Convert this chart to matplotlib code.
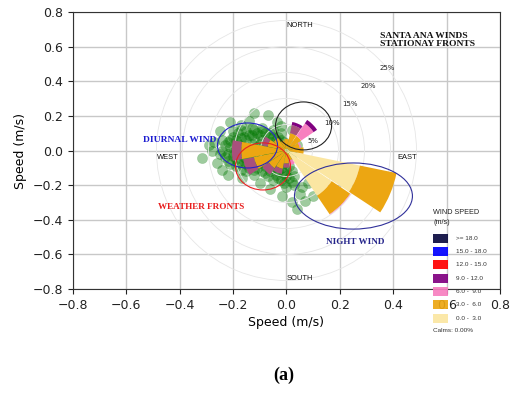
import matplotlib.pyplot as plt
from matplotlib.patches import Ellipse, Rectangle
import numpy as np

W_PX, H_PX = 515, 398

# wind rose, percent of time per sector, stacked by speed bin
directions = ['N', 'NNE', 'NE', 'ENE', 'E', 'ESE', 'SE', 'SSE',
              'S', 'SSW', 'SW', 'WSW', 'W', 'WNW', 'NW', 'NNW']
freq_0_3 = [0.4, 0.4, 0.4, 0.4, 0.6, 14.4, 10.5, 0.6, 0.4, 0.4, 0.4, 0.4, 0.4, 0.4, 0.4, 0.3]
freq_3_6 = [1.8, 3.0, 3.0, 2.2, 2.7, 7.2, 4.3, 1.4, 2.1, 3.2, 3.7, 6.0, 8.3, 3.3, 2.5, 1.7]
freq_6_9 = [0.0, 1.6, 2.9, 0.3, 0.0, 0.0, 0.1, 0.9, 0.8, 1.0, 1.5, 2.1, 1.8, 1.1, 0.0, 0.0]
freq_9_12 = [0.0, 0.6, 0.8, 0.0, 0.0, 0.0, 0.0, 0.0, 0.0, 0.0, 0.0, 0.0, 0.0, 0.0, 0.0, 0.0]
ring_levels = [5, 10, 15, 20, 25]

speed_labels = ['>= 18.0', '15.0 - 18.0', '12.0 - 15.0', '9.0 - 12.0',
                '6.0 -  9.0', '3.0 -  6.0', '0.0 -  3.0']
speed_colors = ['#0b0b40', '#0000ff', '#ff0000', '#800080',
                '#f77fbf', '#eca612', '#fbe6a2']

# hourly wind vectors (m/s)
cloud_x = [-0.22, -0.20, -0.18, -0.15, -0.12, -0.09, -0.06, -0.03, -0.01,
           -0.24, -0.21, -0.18, -0.15, -0.12, -0.09, -0.06, -0.03, 0.00,
           -0.23, -0.20, -0.17, -0.14, -0.11, -0.08, -0.05, -0.02,
           -0.21, -0.18, -0.15, -0.12, -0.09, -0.06, -0.03, 0.00,
           -0.17, -0.14, -0.11, -0.08, -0.05, -0.02, 0.01,
           -0.12, -0.08, -0.04, -0.01, 0.02,
           -0.05, -0.02, 0.01, 0.03,
           -0.19, -0.16, -0.13, -0.10, -0.07, -0.04, -0.20, -0.16, -0.13, -0.10,
           -0.07, -0.04, -0.19, -0.16, -0.13, -0.10, -0.07, -0.04, -0.15, -0.10,
           -0.07, -0.03,
           -0.23, -0.21, -0.17, -0.14, -0.11, -0.08, -0.05, -0.02,
           -0.22, -0.19, -0.16, -0.13, -0.10, -0.07, -0.04, -0.01,
           -0.22, -0.19, -0.16, -0.13, -0.10, -0.07, -0.04, -0.01,
           -0.15, -0.12, -0.09, -0.06, -0.03, 0.00,
           -0.07, -0.03, 0.00, 0.02, -0.01,
           -0.17, -0.13, -0.09, -0.05, -0.02,
           -0.25, -0.24, -0.20, 0.01, 0.02,
           -0.315, -0.28, -0.25, -0.27, -0.26, -0.21, -0.12, -0.07, -0.035, -0.17,
           0.02, -0.22, -0.165, -0.10, 0.00, -0.015, 0.02, 0.06, 0.05, 0.08,
           0.04, 0.10, -0.06, 0.04, -0.29, -0.24, -0.14, -0.02, 0.03, 0.07]
cloud_y = [0.05, 0.08, 0.10, 0.11, 0.12, 0.11, 0.10, 0.08, 0.05,
           0.00, 0.02, 0.04, 0.06, 0.07, 0.06, 0.05, 0.03, 0.01,
           -0.04, -0.03, -0.01, 0.01, 0.02, 0.01, -0.01, -0.02,
           -0.08, -0.07, -0.06, -0.05, -0.04, -0.05, -0.06, -0.05,
           -0.11, -0.10, -0.10, -0.09, -0.10, -0.10, -0.09,
           -0.14, -0.13, -0.14, -0.13, -0.12,
           -0.17, -0.17, -0.16, -0.15,
           0.06, 0.08, 0.09, 0.09, 0.08, 0.06, -0.01, 0.02, 0.04, 0.04,
           0.03, 0.01, -0.05, -0.04, -0.02, -0.01, -0.02, -0.03, -0.08, -0.07,
           -0.07, -0.08,
           0.03, 0.06, 0.07, 0.09, 0.10, 0.10, 0.08, 0.06,
           -0.02, 0.01, 0.00, -0.01, 0.00, 0.00, -0.01, -0.01,
           -0.06, -0.09, -0.06, -0.07, -0.06, -0.05, -0.07, -0.07,
           -0.12, -0.11, -0.12, -0.12, -0.12, -0.11,
           -0.15, -0.16, -0.15, -0.18, -0.19,
           0.12, 0.13, 0.13, 0.12, 0.10,
           -0.02, 0.06, 0.11, 0.03, -0.02,
           -0.045, 0.00, 0.11, 0.05, -0.07, 0.165, 0.215, 0.205, 0.165, 0.15,
           0.12, -0.14, -0.16, -0.19, -0.21, -0.26, -0.30, -0.21, -0.25, -0.19,
           -0.34, -0.26, -0.22, 0.03, 0.03, -0.11, 0.17, 0.14, -0.20, -0.29]

# hand-drawn annotation ellipses: (x, y, width, height, colour)
ellipses = [(-0.146, 0.029, 0.225, 0.26, '#2424c8'),
            (-0.088, -0.092, 0.206, 0.272, '#e82020'),
            (0.064, 0.142, 0.21, 0.277, '#222222'),
            (0.251, -0.263, 0.442, 0.382, '#30309a')]


def px(x, y):
    return x / W_PX, 1 - y / H_PX


fig = plt.figure(figsize=(W_PX / 100, H_PX / 100), dpi=100)
plt.rcParams['font.size'] = 9

ax = fig.add_axes([0.1417, 0.2739, 0.8291, 0.6959])
ax.set_xlim(-0.8, 0.8)
ax.set_ylim(-0.8, 0.8)
ax.set_xticks(np.arange(-0.8, 0.81, 0.2))
ax.set_yticks(np.arange(-0.8, 0.81, 0.2))
ax.grid(color='#c8c8c8', lw=1.0)
ax.set_axisbelow(True)
ax.set_xlabel('Speed (m/s)', labelpad=3)
ax.set_ylabel('Speed (m/s)', labelpad=4)
for s in ax.spines.values():
    s.set_color('#333333')
ax.tick_params(colors='#222222')
ax.scatter(cloud_x, cloud_y, s=55, facecolor=(0.0, 0.47, 0.0, 0.38),
           edgecolor=(0.0, 0.42, 0.0, 0.2), linewidth=0.4)

# polar overlay for the wind rose, centred on (0, 0)
r_max = 26.0
r_px = 130 / 25 * r_max
cx, cy = ax.transData.transform((0, 0))
rose = fig.add_axes([(cx - r_px) / W_PX, (cy - r_px) / H_PX,
                     2 * r_px / W_PX, 2 * r_px / H_PX],
                    projection='polar', zorder=1)
rose.patch.set_alpha(0)
rose.set_theta_zero_location('N')
rose.set_theta_direction(-1)
rose.set_ylim(0, r_max)
rose.set_yticks(ring_levels)
rose.set_yticklabels([])
rose.set_xticks([])
rose.spines['polar'].set_visible(False)
rose.yaxis.grid(color='#e6e6e6', lw=0.6)
rose.set_axisbelow(True)

theta = np.deg2rad(np.arange(len(directions)) * 22.5)
width = np.deg2rad(22.5) * 0.97
over_cloud = ['NNE', 'S', 'SSW', 'SW', 'WSW', 'W', 'WNW']
pink_cols = ['#a8507c' if d in over_cloud else speed_colors[4] for d in directions]
bands = [(freq_0_3, speed_colors[6]), (freq_3_6, speed_colors[5]),
         (freq_6_9, pink_cols), (freq_9_12, speed_colors[3])]
bottom = np.zeros(len(directions))
for freq, col in bands:
    rose.bar(theta, freq, width=width, bottom=bottom, color=col, linewidth=0)
    bottom += np.array(freq)

for r in ring_levels:
    rose.annotate(f'{r}%', xy=(np.pi / 4, r), xytext=(6, -6.5),
                  textcoords='offset points', ha='center', va='center',
                  fontsize=5, color='#222222')

# top layer: ellipses and labels
top = fig.add_axes(ax.get_position(), zorder=2)
top.set_xlim(-0.8, 0.8)
top.set_ylim(-0.8, 0.8)
top.axis('off')
top.patch.set_alpha(0)
for x, y, w, h, c in ellipses:
    top.add_patch(Ellipse((x, y), w, h, fill=False, edgecolor=c, lw=0.8))

for s, x, y in [('NORTH', 0.05, 0.725), ('SOUTH', 0.05, -0.737),
                ('WEST', -0.443, -0.039), ('EAST', 0.454, -0.039)]:
    top.text(x, y, s, fontsize=5.4, ha='center', va='center',
             family='Liberation Sans', color='#111111')

serif = dict(family='Liberation Serif', fontweight='bold', ha='center', va='center')
top.text(-0.40, 0.06, 'DIURNAL WIND', fontsize=6.8, color='#1c1cd0', **serif)
top.text(-0.318, -0.327, 'WEATHER FRONTS', fontsize=6.6, color='#e81c1c', **serif)
top.text(0.259, -0.529, 'NIGHT WIND', fontsize=6.6, color='#22228a', **serif)
top.text(0.351, 0.639, 'SANTA ANA WINDS\nSTATIONAY FRONTS', fontsize=6.8,
         color='#111111', family='Liberation Serif', fontweight='bold',
         ha='left', va='center', linespacing=1.05)

# legend drawn by hand in figure pixels
fig.text(*px(433, 212), 'WIND SPEED', fontsize=5.2, ha='left', va='center',
         family='Liberation Sans', color='#222222')
fig.text(*px(433, 222), '(m/s)', fontsize=5.2, ha='left', va='center',
         family='Liberation Sans', color='#222222')
for i, (lab, col) in enumerate(zip(speed_labels, speed_colors)):
    yc = 238.3 + 13.3 * i
    fig.add_artist(Rectangle(px(433, yc + 4.5), 15 / W_PX, 9 / H_PX,
                             transform=fig.transFigure, facecolor=col,
                             edgecolor='none', alpha=0.92, zorder=5))
    fig.text(*px(456, yc), lab, fontsize=4.6, ha='left', va='center',
             family='Liberation Sans', color='#333333', zorder=6)
fig.text(*px(433, 330), 'Calms: 0.00%', fontsize=4.6, ha='left', va='center',
         family='Liberation Sans', color='#333333')

fig.text(0.55, 0.058, '(a)', fontsize=13, fontweight='bold',
         family='Liberation Serif', ha='center', va='center')

fig.savefig('out.png', dpi=100)
